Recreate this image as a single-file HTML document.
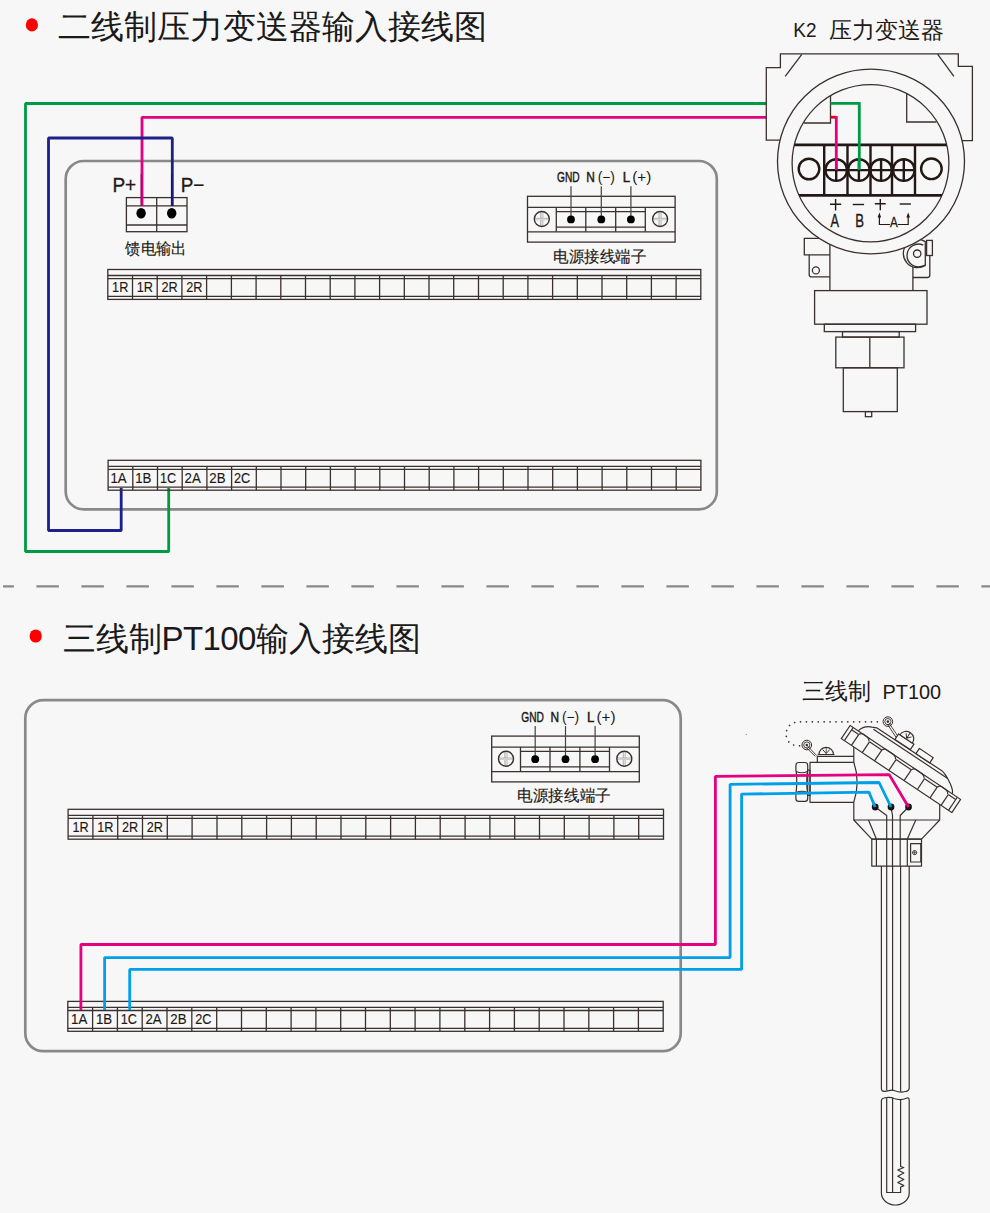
<!DOCTYPE html><html><head><meta charset="utf-8"><title>wiring</title><style>
html,body{margin:0;padding:0;background:#f7f7f7;width:990px;height:1213px;overflow:hidden}
svg{display:block;font-family:"Liberation Sans",sans-serif}
</style></head><body>
<svg width="990" height="1213" viewBox="0 0 990 1213">
<rect width="990" height="1213" fill="#f7f7f7"/>
<defs><linearGradient id="vg" x1="0" x2="1" y1="0" y2="0"><stop offset="0" stop-color="#a0a0a0"/><stop offset="0.5" stop-color="#e6e6e6"/><stop offset="1" stop-color="#b4b4b4"/></linearGradient><linearGradient id="hg" x1="0" x2="0" y1="0" y2="1"><stop offset="0" stop-color="#8a8a8a"/><stop offset="0.5" stop-color="#eeeeee"/><stop offset="1" stop-color="#b8b8b8"/></linearGradient></defs>
<ellipse cx="31.9" cy="24.9" rx="6.1" ry="6.6" fill="#ff0000"/>
<text x="58" y="38.3" font-size="33" fill="#1a1a1a">二线制压力变送器输入接线图</text>
<rect x="65.7" y="161" width="651.1" height="348.4" rx="18" fill="none" stroke="#898989" stroke-width="2.7"/>
<text x="112.4" y="192.3" font-size="21" fill="#231815" stroke="#231815" stroke-width="0.3" textLength="23.8" lengthAdjust="spacingAndGlyphs">P+</text>
<text x="180.7" y="192.3" font-size="21" fill="#231815" stroke="#231815" stroke-width="0.3" textLength="23.6" lengthAdjust="spacingAndGlyphs">P−</text>
<g stroke="#3a302e" stroke-width="1.3" fill="none"><rect x="126.4" y="197.6" width="60.6" height="34.1"/><line x1="156.7" y1="197.6" x2="156.7" y2="231.7"/><line x1="126.4" y1="205.9" x2="187" y2="205.9"/><line x1="126.4" y1="225" x2="187" y2="225"/></g>
<path d="M766 103.5H25.5V551.5H168.7V488" fill="none" stroke="#009944" stroke-width="2.8" stroke-linejoin="bevel"/>
<path d="M766 117.3H142V206" fill="none" stroke="#e4007f" stroke-width="2.8" stroke-linejoin="bevel"/>
<path d="M172.3 206V138H48.5V530.5H121.2V488" fill="none" stroke="#1d2088" stroke-width="2.8" stroke-linejoin="bevel"/>
<line x1="141.2" y1="174" x2="141.2" y2="206" stroke="#5a2040" stroke-width="1"/>
<line x1="171.6" y1="174" x2="171.6" y2="206" stroke="#1a1a40" stroke-width="1"/>
<ellipse cx="141.1" cy="213.3" rx="4.7" ry="5.3" fill="#000"/>
<ellipse cx="171.7" cy="213.3" rx="4.7" ry="5.3" fill="#000"/>
<text x="125.2" y="254" font-size="16" textLength="61.4" lengthAdjust="spacingAndGlyphs" fill="#231815" stroke="#231815" stroke-width="0.15">馈电输出</text>
<rect x="107.8" y="269.5" width="593.0" height="29.9" fill="none" stroke="#3a302e" stroke-width="1.3"/>
<line x1="107.8" y1="275.5" x2="700.8" y2="275.5" stroke="#3a302e" stroke-width="1.3"/>
<line x1="107.8" y1="278.6" x2="700.8" y2="278.6" stroke="#3a302e" stroke-width="1.3"/>
<line x1="107.8" y1="296.4" x2="700.8" y2="296.4" stroke="#3a302e" stroke-width="1.3"/>
<line x1="132.5" y1="275.5" x2="132.5" y2="299.4" stroke="#3a302e" stroke-width="1.3"/>
<line x1="157.2" y1="275.5" x2="157.2" y2="299.4" stroke="#3a302e" stroke-width="1.3"/>
<line x1="181.9" y1="275.5" x2="181.9" y2="299.4" stroke="#3a302e" stroke-width="1.3"/>
<line x1="206.6" y1="275.5" x2="206.6" y2="299.4" stroke="#3a302e" stroke-width="1.3"/>
<line x1="231.4" y1="275.5" x2="231.4" y2="299.4" stroke="#3a302e" stroke-width="1.3"/>
<line x1="256.1" y1="275.5" x2="256.1" y2="299.4" stroke="#3a302e" stroke-width="1.3"/>
<line x1="280.8" y1="275.5" x2="280.8" y2="299.4" stroke="#3a302e" stroke-width="1.3"/>
<line x1="305.5" y1="275.5" x2="305.5" y2="299.4" stroke="#3a302e" stroke-width="1.3"/>
<line x1="330.2" y1="275.5" x2="330.2" y2="299.4" stroke="#3a302e" stroke-width="1.3"/>
<line x1="354.9" y1="275.5" x2="354.9" y2="299.4" stroke="#3a302e" stroke-width="1.3"/>
<line x1="379.6" y1="275.5" x2="379.6" y2="299.4" stroke="#3a302e" stroke-width="1.3"/>
<line x1="404.3" y1="275.5" x2="404.3" y2="299.4" stroke="#3a302e" stroke-width="1.3"/>
<line x1="429.0" y1="275.5" x2="429.0" y2="299.4" stroke="#3a302e" stroke-width="1.3"/>
<line x1="453.7" y1="275.5" x2="453.7" y2="299.4" stroke="#3a302e" stroke-width="1.3"/>
<line x1="478.5" y1="275.5" x2="478.5" y2="299.4" stroke="#3a302e" stroke-width="1.3"/>
<line x1="503.2" y1="275.5" x2="503.2" y2="299.4" stroke="#3a302e" stroke-width="1.3"/>
<line x1="527.9" y1="275.5" x2="527.9" y2="299.4" stroke="#3a302e" stroke-width="1.3"/>
<line x1="552.6" y1="275.5" x2="552.6" y2="299.4" stroke="#3a302e" stroke-width="1.3"/>
<line x1="577.3" y1="275.5" x2="577.3" y2="299.4" stroke="#3a302e" stroke-width="1.3"/>
<line x1="602.0" y1="275.5" x2="602.0" y2="299.4" stroke="#3a302e" stroke-width="1.3"/>
<line x1="626.7" y1="275.5" x2="626.7" y2="299.4" stroke="#3a302e" stroke-width="1.3"/>
<line x1="651.4" y1="275.5" x2="651.4" y2="299.4" stroke="#3a302e" stroke-width="1.3"/>
<line x1="676.1" y1="275.5" x2="676.1" y2="299.4" stroke="#3a302e" stroke-width="1.3"/>
<text x="120.2" y="292.0" text-anchor="middle" font-size="15" textLength="16.2" lengthAdjust="spacingAndGlyphs" fill="#231815" stroke="#231815" stroke-width="0.15">1R</text>
<text x="144.9" y="292.0" text-anchor="middle" font-size="15" textLength="16.2" lengthAdjust="spacingAndGlyphs" fill="#231815" stroke="#231815" stroke-width="0.15">1R</text>
<text x="169.6" y="292.0" text-anchor="middle" font-size="15" textLength="16.2" lengthAdjust="spacingAndGlyphs" fill="#231815" stroke="#231815" stroke-width="0.15">2R</text>
<text x="194.3" y="292.0" text-anchor="middle" font-size="15" textLength="16.2" lengthAdjust="spacingAndGlyphs" fill="#231815" stroke="#231815" stroke-width="0.15">2R</text>
<rect x="108.1" y="460.3" width="592.8" height="29.9" fill="none" stroke="#3a302e" stroke-width="1.3"/>
<line x1="108.1" y1="466.3" x2="700.9" y2="466.3" stroke="#3a302e" stroke-width="1.3"/>
<line x1="108.1" y1="469.4" x2="700.9" y2="469.4" stroke="#3a302e" stroke-width="1.3"/>
<line x1="108.1" y1="487.2" x2="700.9" y2="487.2" stroke="#3a302e" stroke-width="1.3"/>
<line x1="132.8" y1="466.3" x2="132.8" y2="490.2" stroke="#3a302e" stroke-width="1.3"/>
<line x1="157.5" y1="466.3" x2="157.5" y2="490.2" stroke="#3a302e" stroke-width="1.3"/>
<line x1="182.2" y1="466.3" x2="182.2" y2="490.2" stroke="#3a302e" stroke-width="1.3"/>
<line x1="206.9" y1="466.3" x2="206.9" y2="490.2" stroke="#3a302e" stroke-width="1.3"/>
<line x1="231.6" y1="466.3" x2="231.6" y2="490.2" stroke="#3a302e" stroke-width="1.3"/>
<line x1="256.3" y1="466.3" x2="256.3" y2="490.2" stroke="#3a302e" stroke-width="1.3"/>
<line x1="281.0" y1="466.3" x2="281.0" y2="490.2" stroke="#3a302e" stroke-width="1.3"/>
<line x1="305.7" y1="466.3" x2="305.7" y2="490.2" stroke="#3a302e" stroke-width="1.3"/>
<line x1="330.4" y1="466.3" x2="330.4" y2="490.2" stroke="#3a302e" stroke-width="1.3"/>
<line x1="355.1" y1="466.3" x2="355.1" y2="490.2" stroke="#3a302e" stroke-width="1.3"/>
<line x1="379.8" y1="466.3" x2="379.8" y2="490.2" stroke="#3a302e" stroke-width="1.3"/>
<line x1="404.5" y1="466.3" x2="404.5" y2="490.2" stroke="#3a302e" stroke-width="1.3"/>
<line x1="429.2" y1="466.3" x2="429.2" y2="490.2" stroke="#3a302e" stroke-width="1.3"/>
<line x1="453.9" y1="466.3" x2="453.9" y2="490.2" stroke="#3a302e" stroke-width="1.3"/>
<line x1="478.6" y1="466.3" x2="478.6" y2="490.2" stroke="#3a302e" stroke-width="1.3"/>
<line x1="503.3" y1="466.3" x2="503.3" y2="490.2" stroke="#3a302e" stroke-width="1.3"/>
<line x1="528.0" y1="466.3" x2="528.0" y2="490.2" stroke="#3a302e" stroke-width="1.3"/>
<line x1="552.7" y1="466.3" x2="552.7" y2="490.2" stroke="#3a302e" stroke-width="1.3"/>
<line x1="577.4" y1="466.3" x2="577.4" y2="490.2" stroke="#3a302e" stroke-width="1.3"/>
<line x1="602.1" y1="466.3" x2="602.1" y2="490.2" stroke="#3a302e" stroke-width="1.3"/>
<line x1="626.8" y1="466.3" x2="626.8" y2="490.2" stroke="#3a302e" stroke-width="1.3"/>
<line x1="651.5" y1="466.3" x2="651.5" y2="490.2" stroke="#3a302e" stroke-width="1.3"/>
<line x1="676.2" y1="466.3" x2="676.2" y2="490.2" stroke="#3a302e" stroke-width="1.3"/>
<text x="118.6" y="482.8" text-anchor="middle" font-size="15" textLength="16.2" lengthAdjust="spacingAndGlyphs" fill="#231815" stroke="#231815" stroke-width="0.15">1A</text>
<text x="143.3" y="482.8" text-anchor="middle" font-size="15" textLength="16.2" lengthAdjust="spacingAndGlyphs" fill="#231815" stroke="#231815" stroke-width="0.15">1B</text>
<text x="168.0" y="482.8" text-anchor="middle" font-size="15" textLength="16.2" lengthAdjust="spacingAndGlyphs" fill="#231815" stroke="#231815" stroke-width="0.15">1C</text>
<text x="192.7" y="482.8" text-anchor="middle" font-size="15" textLength="16.2" lengthAdjust="spacingAndGlyphs" fill="#231815" stroke="#231815" stroke-width="0.15">2A</text>
<text x="217.4" y="482.8" text-anchor="middle" font-size="15" textLength="16.2" lengthAdjust="spacingAndGlyphs" fill="#231815" stroke="#231815" stroke-width="0.15">2B</text>
<text x="242.1" y="482.8" text-anchor="middle" font-size="15" textLength="16.2" lengthAdjust="spacingAndGlyphs" fill="#231815" stroke="#231815" stroke-width="0.15">2C</text>
<g transform="translate(527.5,196.3)" stroke="#3a302e" stroke-width="1.3" fill="none">
<rect x="0" y="0" width="147.6" height="45.8"/>
<line x1="0" y1="11" x2="147.6" y2="11"/>
<line x1="0" y1="35.5" x2="147.6" y2="35.5"/>
<line x1="28.8" y1="11" x2="28.8" y2="35.5"/>
<line x1="58.3" y1="11" x2="58.3" y2="35.5"/>
<line x1="88.2" y1="11" x2="88.2" y2="35.5"/>
<line x1="117.8" y1="11" x2="117.8" y2="35.5"/>
<line x1="28.8" y1="15.3" x2="117.8" y2="15.3"/>
<line x1="28.8" y1="30.8" x2="117.8" y2="30.8"/>
<rect x="12.8" y="16" width="3" height="13.6" fill="url(#vg)" stroke="none"/>
<rect x="7.5" y="21.6" width="13.6" height="2.3" fill="url(#hg)" stroke="none"/>
<circle cx="14.3" cy="22.7" r="7.5" stroke-width="1.4"/>
<rect x="131.1" y="16" width="3" height="13.6" fill="url(#vg)" stroke="none"/>
<rect x="125.8" y="21.6" width="13.6" height="2.3" fill="url(#hg)" stroke="none"/>
<circle cx="132.6" cy="22.7" r="7.5" stroke-width="1.4"/>
<line x1="43.5" y1="-10" x2="43.5" y2="23" stroke="#4a403e" stroke-width="1.2"/>
<circle cx="43.5" cy="23.1" r="3.9" fill="#000" stroke="none"/>
<line x1="73.8" y1="-10" x2="73.8" y2="23" stroke="#4a403e" stroke-width="1.2"/>
<circle cx="73.8" cy="23.1" r="3.9" fill="#000" stroke="none"/>
<line x1="103.4" y1="-10" x2="103.4" y2="23" stroke="#4a403e" stroke-width="1.2"/>
<circle cx="103.4" cy="23.1" r="3.9" fill="#000" stroke="none"/>
</g>
<g font-size="14" fill="#231815" stroke="#231815" stroke-width="0.45">
<text x="557.1" y="182.3" textLength="22.6" lengthAdjust="spacingAndGlyphs">GND</text>
<text x="586.3" y="182.3" textLength="8.6" lengthAdjust="spacingAndGlyphs">N</text>
<text x="622.7" y="182.3" textLength="7.4" lengthAdjust="spacingAndGlyphs">L</text>
</g>
<text x="597.7" y="182.3" font-size="14" fill="#231815" textLength="17.2" lengthAdjust="spacingAndGlyphs">(−)</text>
<text x="632.3" y="182.3" font-size="14" fill="#231815" textLength="19" lengthAdjust="spacingAndGlyphs">(+)</text>
<text x="553.1" y="261.6" font-size="16" textLength="93.4" lengthAdjust="spacingAndGlyphs" fill="#231815" stroke="#231815" stroke-width="0.15">电源接线端子</text>
<text x="793.3" y="37.3" font-size="20.5" fill="#231815" textLength="23.2" lengthAdjust="spacingAndGlyphs">K2</text>
<text x="829" y="38" font-size="22.6" fill="#231815">压力变送器</text>
<g stroke="#3a302e" stroke-width="1.3" fill="none">
<path d="M779.8 140.1H766.3V67.6H780.4V53.9H958.3V66.3H972.4V140.7H962"/>
<line x1="801.8" y1="54.3" x2="785.2" y2="76.4"/><line x1="937.6" y1="54.2" x2="953.9" y2="76.4"/>
<path d="M829.9 240V290.6"/><path d="M912.9 267V290.6"/>
<path d="M829.9 238.3H804.3V254.9H829.9"/>
<path d="M809.2 254.9V274.4Q809.2 276.9 811.7 276.9H829.9"/>
<circle cx="815.9" cy="270.4" r="3.5"/>
<path d="M912.9 277.5H927.3Q929.8 277.5 929.8 275V255.5"/>
<rect x="926.6" y="240.4" width="5.8" height="15.1"/>
<path d="M925.3 241.6A14.2 14.2 0 1 0 925.3 265.4Z" fill="#f7f7f7"/>
<path d="M923.3 245.2A11.4 11.4 0 1 0 922.4 266.2L925.3 265.2"/>
<circle cx="917.2" cy="253.7" r="3.7"/>
<rect x="814.6" y="290.6" width="112.4" height="33.6"/>
<rect x="824.3" y="324.2" width="91.3" height="7.4"/>
<rect x="842.5" y="331.6" width="56.7" height="5.5"/>
<rect x="835.8" y="337.1" width="68.2" height="30.7"/>
<line x1="869.8" y1="337.1" x2="869.8" y2="367.8"/>
<rect x="843.3" y="367.8" width="54" height="43.8"/>
<rect x="865.4" y="411.6" width="6.3" height="5.1"/>
</g>
<ellipse cx="871" cy="161.5" rx="93.5" ry="92.3" fill="#f7f7f7" stroke="#3a302e" stroke-width="1.3"/>
<ellipse cx="870.5" cy="163.2" rx="78.4" ry="78.6" fill="#f7f7f7" stroke="#3a302e" stroke-width="1.3"/>
<g stroke="#3a302e" stroke-width="1.3" fill="none"><path d="M830.5 95.5V123H804"/><path d="M906.7 93.5V122H936.3"/></g>
<defs><clipPath id="ic"><ellipse cx="870.5" cy="163.2" rx="78.4" ry="78.6"/></clipPath></defs>
<g stroke="#231815" stroke-width="2.4" fill="none" clip-path="url(#ic)">
<line x1="790" y1="144.9" x2="952" y2="144.9" stroke-width="2.6"/>
<line x1="790" y1="195.4" x2="952" y2="195.4" stroke-width="2.6"/>
<line x1="824.2" y1="144.9" x2="824.2" y2="195.4"/>
<line x1="847.5" y1="144.9" x2="847.5" y2="195.4"/>
<line x1="870.5" y1="144.9" x2="870.5" y2="195.4"/>
<line x1="892.0" y1="144.9" x2="892.0" y2="195.4"/>
<line x1="915.0" y1="144.9" x2="915.0" y2="195.4"/>
<circle cx="809" cy="169" r="10.3"/><circle cx="931.4" cy="168.8" r="10.3"/>
<circle cx="836.2" cy="170.1" r="10.8"/>
<line x1="836.2" y1="159.5" x2="836.2" y2="181"/>
<circle cx="858.9" cy="170.1" r="10.8"/>
<line x1="858.9" y1="159.5" x2="858.9" y2="181"/>
<circle cx="881.1" cy="170.1" r="10.8"/>
<line x1="881.1" y1="159.5" x2="881.1" y2="181"/>
<circle cx="903.8" cy="170.1" r="10.8"/>
<line x1="903.8" y1="159.5" x2="903.8" y2="181"/>
<line x1="825" y1="170.1" x2="914.5" y2="170.1"/>
</g>
<path d="M830.5 103.3H859.3V170" fill="none" stroke="#009944" stroke-width="2.8"/>
<path d="M830.5 117.2H836.3" fill="none" stroke="#e60012" stroke-width="2.8"/>
<path d="M836.3 116V170" fill="none" stroke="#e4007f" stroke-width="2.8"/>
<g stroke="#231815" stroke-width="1.4" fill="none">
<path d="M830 204.3H841.2M835.6 199.1V210.5"/>
<path d="M852.7 204.5H864.1"/>
<path d="M874.8 203.8H885.7M880.3 199V210.2"/>
<path d="M899.7 204H910.9"/>
</g>
<g fill="#231815" font-size="18.8" stroke="#231815" stroke-width="0.35">
<text transform="translate(830.6 227.3) scale(0.68 1)">A</text>
<text transform="translate(855.3 227.3) scale(0.7 1)">B</text>
<text transform="translate(889.9 227.3) scale(0.62 0.8)">A</text>
</g>
<g stroke="#231815" stroke-width="1.2" fill="none"><path d="M879.4 215.5V224.5H890"/><path d="M897.7 224.5H908.2V215.5"/></g>
<g fill="#231815"><path d="M879.4 212.5L877.6 217.4H881.2Z"/><path d="M908.2 212.5L906.4 217.4H910Z"/></g>
<line x1="3" y1="586.4" x2="990" y2="586.4" stroke="#898989" stroke-width="2.1" stroke-dasharray="22.5 22.5" stroke-dashoffset="11.6"/>
<ellipse cx="35.7" cy="636" rx="6.1" ry="6.6" fill="#ff0000"/>
<text x="62.5" y="649.8" font-size="33" fill="#1a1a1a">三线制<tspan letter-spacing="-0.6">PT100</tspan>输入接线图</text>
<rect x="25.3" y="700.2" width="655.4" height="351" rx="18" fill="none" stroke="#898989" stroke-width="2.7"/>
<g transform="translate(491.7,736.1)" stroke="#3a302e" stroke-width="1.3" fill="none">
<rect x="0" y="0" width="147.6" height="45.8"/>
<line x1="0" y1="11" x2="147.6" y2="11"/>
<line x1="0" y1="35.5" x2="147.6" y2="35.5"/>
<line x1="28.8" y1="11" x2="28.8" y2="35.5"/>
<line x1="58.3" y1="11" x2="58.3" y2="35.5"/>
<line x1="88.2" y1="11" x2="88.2" y2="35.5"/>
<line x1="117.8" y1="11" x2="117.8" y2="35.5"/>
<line x1="28.8" y1="15.3" x2="117.8" y2="15.3"/>
<line x1="28.8" y1="30.8" x2="117.8" y2="30.8"/>
<rect x="12.8" y="16" width="3" height="13.6" fill="url(#vg)" stroke="none"/>
<rect x="7.5" y="21.6" width="13.6" height="2.3" fill="url(#hg)" stroke="none"/>
<circle cx="14.3" cy="22.7" r="7.5" stroke-width="1.4"/>
<rect x="131.1" y="16" width="3" height="13.6" fill="url(#vg)" stroke="none"/>
<rect x="125.8" y="21.6" width="13.6" height="2.3" fill="url(#hg)" stroke="none"/>
<circle cx="132.6" cy="22.7" r="7.5" stroke-width="1.4"/>
<line x1="43.5" y1="-10" x2="43.5" y2="23" stroke="#4a403e" stroke-width="1.2"/>
<circle cx="43.5" cy="23.1" r="3.9" fill="#000" stroke="none"/>
<line x1="73.8" y1="-10" x2="73.8" y2="23" stroke="#4a403e" stroke-width="1.2"/>
<circle cx="73.8" cy="23.1" r="3.9" fill="#000" stroke="none"/>
<line x1="103.4" y1="-10" x2="103.4" y2="23" stroke="#4a403e" stroke-width="1.2"/>
<circle cx="103.4" cy="23.1" r="3.9" fill="#000" stroke="none"/>
</g>
<g font-size="14" fill="#231815" stroke="#231815" stroke-width="0.45">
<text x="521.3" y="722.1" textLength="22.6" lengthAdjust="spacingAndGlyphs">GND</text>
<text x="550.5" y="722.1" textLength="8.6" lengthAdjust="spacingAndGlyphs">N</text>
<text x="586.9" y="722.1" textLength="7.4" lengthAdjust="spacingAndGlyphs">L</text>
</g>
<text x="561.9" y="722.1" font-size="14" fill="#231815" textLength="17.2" lengthAdjust="spacingAndGlyphs">(−)</text>
<text x="596.5" y="722.1" font-size="14" fill="#231815" textLength="19" lengthAdjust="spacingAndGlyphs">(+)</text>
<text x="517.3" y="801.4" font-size="16" textLength="93.4" lengthAdjust="spacingAndGlyphs" fill="#231815" stroke="#231815" stroke-width="0.15">电源接线端子</text>
<rect x="68.1" y="809.3" width="595.4" height="29.9" fill="none" stroke="#3a302e" stroke-width="1.3"/>
<line x1="68.1" y1="815.3" x2="663.5" y2="815.3" stroke="#3a302e" stroke-width="1.3"/>
<line x1="68.1" y1="818.4" x2="663.5" y2="818.4" stroke="#3a302e" stroke-width="1.3"/>
<line x1="68.1" y1="836.2" x2="663.5" y2="836.2" stroke="#3a302e" stroke-width="1.3"/>
<line x1="92.9" y1="815.3" x2="92.9" y2="839.2" stroke="#3a302e" stroke-width="1.3"/>
<line x1="117.7" y1="815.3" x2="117.7" y2="839.2" stroke="#3a302e" stroke-width="1.3"/>
<line x1="142.5" y1="815.3" x2="142.5" y2="839.2" stroke="#3a302e" stroke-width="1.3"/>
<line x1="167.3" y1="815.3" x2="167.3" y2="839.2" stroke="#3a302e" stroke-width="1.3"/>
<line x1="192.1" y1="815.3" x2="192.1" y2="839.2" stroke="#3a302e" stroke-width="1.3"/>
<line x1="217.0" y1="815.3" x2="217.0" y2="839.2" stroke="#3a302e" stroke-width="1.3"/>
<line x1="241.8" y1="815.3" x2="241.8" y2="839.2" stroke="#3a302e" stroke-width="1.3"/>
<line x1="266.6" y1="815.3" x2="266.6" y2="839.2" stroke="#3a302e" stroke-width="1.3"/>
<line x1="291.4" y1="815.3" x2="291.4" y2="839.2" stroke="#3a302e" stroke-width="1.3"/>
<line x1="316.2" y1="815.3" x2="316.2" y2="839.2" stroke="#3a302e" stroke-width="1.3"/>
<line x1="341.0" y1="815.3" x2="341.0" y2="839.2" stroke="#3a302e" stroke-width="1.3"/>
<line x1="365.8" y1="815.3" x2="365.8" y2="839.2" stroke="#3a302e" stroke-width="1.3"/>
<line x1="390.6" y1="815.3" x2="390.6" y2="839.2" stroke="#3a302e" stroke-width="1.3"/>
<line x1="415.4" y1="815.3" x2="415.4" y2="839.2" stroke="#3a302e" stroke-width="1.3"/>
<line x1="440.2" y1="815.3" x2="440.2" y2="839.2" stroke="#3a302e" stroke-width="1.3"/>
<line x1="465.1" y1="815.3" x2="465.1" y2="839.2" stroke="#3a302e" stroke-width="1.3"/>
<line x1="489.9" y1="815.3" x2="489.9" y2="839.2" stroke="#3a302e" stroke-width="1.3"/>
<line x1="514.7" y1="815.3" x2="514.7" y2="839.2" stroke="#3a302e" stroke-width="1.3"/>
<line x1="539.5" y1="815.3" x2="539.5" y2="839.2" stroke="#3a302e" stroke-width="1.3"/>
<line x1="564.3" y1="815.3" x2="564.3" y2="839.2" stroke="#3a302e" stroke-width="1.3"/>
<line x1="589.1" y1="815.3" x2="589.1" y2="839.2" stroke="#3a302e" stroke-width="1.3"/>
<line x1="613.9" y1="815.3" x2="613.9" y2="839.2" stroke="#3a302e" stroke-width="1.3"/>
<line x1="638.7" y1="815.3" x2="638.7" y2="839.2" stroke="#3a302e" stroke-width="1.3"/>
<text x="80.5" y="831.8" text-anchor="middle" font-size="15" textLength="16.2" lengthAdjust="spacingAndGlyphs" fill="#231815" stroke="#231815" stroke-width="0.15">1R</text>
<text x="105.3" y="831.8" text-anchor="middle" font-size="15" textLength="16.2" lengthAdjust="spacingAndGlyphs" fill="#231815" stroke="#231815" stroke-width="0.15">1R</text>
<text x="130.1" y="831.8" text-anchor="middle" font-size="15" textLength="16.2" lengthAdjust="spacingAndGlyphs" fill="#231815" stroke="#231815" stroke-width="0.15">2R</text>
<text x="154.9" y="831.8" text-anchor="middle" font-size="15" textLength="16.2" lengthAdjust="spacingAndGlyphs" fill="#231815" stroke="#231815" stroke-width="0.15">2R</text>
<rect x="67.8" y="1001.4" width="595.4" height="29.9" fill="none" stroke="#3a302e" stroke-width="1.3"/>
<line x1="67.8" y1="1007.4" x2="663.2" y2="1007.4" stroke="#3a302e" stroke-width="1.3"/>
<line x1="67.8" y1="1010.5" x2="663.2" y2="1010.5" stroke="#3a302e" stroke-width="1.3"/>
<line x1="67.8" y1="1028.3" x2="663.2" y2="1028.3" stroke="#3a302e" stroke-width="1.3"/>
<line x1="92.6" y1="1007.4" x2="92.6" y2="1031.3" stroke="#3a302e" stroke-width="1.3"/>
<line x1="117.4" y1="1007.4" x2="117.4" y2="1031.3" stroke="#3a302e" stroke-width="1.3"/>
<line x1="142.2" y1="1007.4" x2="142.2" y2="1031.3" stroke="#3a302e" stroke-width="1.3"/>
<line x1="167.0" y1="1007.4" x2="167.0" y2="1031.3" stroke="#3a302e" stroke-width="1.3"/>
<line x1="191.8" y1="1007.4" x2="191.8" y2="1031.3" stroke="#3a302e" stroke-width="1.3"/>
<line x1="216.7" y1="1007.4" x2="216.7" y2="1031.3" stroke="#3a302e" stroke-width="1.3"/>
<line x1="241.5" y1="1007.4" x2="241.5" y2="1031.3" stroke="#3a302e" stroke-width="1.3"/>
<line x1="266.3" y1="1007.4" x2="266.3" y2="1031.3" stroke="#3a302e" stroke-width="1.3"/>
<line x1="291.1" y1="1007.4" x2="291.1" y2="1031.3" stroke="#3a302e" stroke-width="1.3"/>
<line x1="315.9" y1="1007.4" x2="315.9" y2="1031.3" stroke="#3a302e" stroke-width="1.3"/>
<line x1="340.7" y1="1007.4" x2="340.7" y2="1031.3" stroke="#3a302e" stroke-width="1.3"/>
<line x1="365.5" y1="1007.4" x2="365.5" y2="1031.3" stroke="#3a302e" stroke-width="1.3"/>
<line x1="390.3" y1="1007.4" x2="390.3" y2="1031.3" stroke="#3a302e" stroke-width="1.3"/>
<line x1="415.1" y1="1007.4" x2="415.1" y2="1031.3" stroke="#3a302e" stroke-width="1.3"/>
<line x1="439.9" y1="1007.4" x2="439.9" y2="1031.3" stroke="#3a302e" stroke-width="1.3"/>
<line x1="464.8" y1="1007.4" x2="464.8" y2="1031.3" stroke="#3a302e" stroke-width="1.3"/>
<line x1="489.6" y1="1007.4" x2="489.6" y2="1031.3" stroke="#3a302e" stroke-width="1.3"/>
<line x1="514.4" y1="1007.4" x2="514.4" y2="1031.3" stroke="#3a302e" stroke-width="1.3"/>
<line x1="539.2" y1="1007.4" x2="539.2" y2="1031.3" stroke="#3a302e" stroke-width="1.3"/>
<line x1="564.0" y1="1007.4" x2="564.0" y2="1031.3" stroke="#3a302e" stroke-width="1.3"/>
<line x1="588.8" y1="1007.4" x2="588.8" y2="1031.3" stroke="#3a302e" stroke-width="1.3"/>
<line x1="613.6" y1="1007.4" x2="613.6" y2="1031.3" stroke="#3a302e" stroke-width="1.3"/>
<line x1="638.4" y1="1007.4" x2="638.4" y2="1031.3" stroke="#3a302e" stroke-width="1.3"/>
<text x="79.2" y="1023.9" text-anchor="middle" font-size="15" textLength="16.2" lengthAdjust="spacingAndGlyphs" fill="#231815" stroke="#231815" stroke-width="0.15">1A</text>
<text x="104.0" y="1023.9" text-anchor="middle" font-size="15" textLength="16.2" lengthAdjust="spacingAndGlyphs" fill="#231815" stroke="#231815" stroke-width="0.15">1B</text>
<text x="128.8" y="1023.9" text-anchor="middle" font-size="15" textLength="16.2" lengthAdjust="spacingAndGlyphs" fill="#231815" stroke="#231815" stroke-width="0.15">1C</text>
<text x="153.6" y="1023.9" text-anchor="middle" font-size="15" textLength="16.2" lengthAdjust="spacingAndGlyphs" fill="#231815" stroke="#231815" stroke-width="0.15">2A</text>
<text x="178.4" y="1023.9" text-anchor="middle" font-size="15" textLength="16.2" lengthAdjust="spacingAndGlyphs" fill="#231815" stroke="#231815" stroke-width="0.15">2B</text>
<text x="203.3" y="1023.9" text-anchor="middle" font-size="15" textLength="16.2" lengthAdjust="spacingAndGlyphs" fill="#231815" stroke="#231815" stroke-width="0.15">2C</text>
<text x="802" y="699" font-size="23.3" fill="#231815">三线制</text>
<text x="882.6" y="699.3" font-size="20" fill="#231815" textLength="58.6" lengthAdjust="spacingAndGlyphs">PT100</text>
<g stroke="#3a302e" stroke-width="1.2" fill="none" stroke-linejoin="round">
<path d="M853.8 746.5V762.3Q860.5 782 853.8 802.3V820H939.7V804.3"/>
<path d="M853.8 820L871.8 839.1H921.5L939.7 820"/>
<path d="M868.5 820L876.4 839.1"/><path d="M915.8 820L907.3 839.1"/>
<rect x="871.8" y="839.1" width="49.7" height="27"/>
<line x1="876.4" y1="839.1" x2="876.4" y2="866.1"/><line x1="907.3" y1="839.1" x2="907.3" y2="866.1"/>
<rect x="910.6" y="843.6" width="10.2" height="18.4"/>
<circle cx="914.6" cy="852.6" r="2.1" stroke-width="0.9"/>
<path d="M912.5 852.6H916.7M914.6 850.5V854.7" stroke-width="0.7"/>
<path d="M875.2 807L886.7 815.5V866.1"/><path d="M891 807L892.5 815.5V866.1"/><path d="M908.5 807L900.2 815.5V866.1"/>
<path d="M881.4 866.1V1088.5Q881.4 1091.5 884.5 1091.3C889 1091 891 1089.5 894 1090.5C898 1092 903 1092.5 906.5 1091.3Q909.2 1090.5 909.2 1088V866.1"/>
<path d="M886.7 866.1V1090.5M892.6 866.1V1090.8M900.6 866.1V1091.8"/>
<path d="M881.4 1101Q881.4 1098.5 884 1098C888 1097 891 1097 894 1098.5C898 1100 903 1099.8 907 1098Q909.2 1097.5 909.2 1100V1193A13.9 12 0 0 1 881.4 1193Z"/>
<path d="M886.7 1098.3V1192.5H900.6V1187.2L903.8 1185.6L897.8 1182.5L903.8 1179.5L897.8 1176.2L903.8 1173L897.8 1170L903.8 1167.5L900.6 1166.5V1099.5"/>
<path d="M892.6 1097.8V1192.5"/>
<path d="M798.8 762.5H805Q807.7 762.5 807.7 765.5V770C806.5 775 806.5 788 807.7 793V798.5Q807.7 801.4 805 801.4H798.8Q795.9 801.4 795.9 798.5V793C797 788 797 775 795.9 770V765.5Q795.9 762.5 798.8 762.5Z"/>
<path d="M796.2 771.5Q801.8 774 807.5 771.5M796.2 792.5Q801.8 790 807.5 792.5"/>
<rect x="807.7" y="770" width="2.3" height="25.5"/>
<path d="M853.8 762.3H810V802.3H853.8"/>
<path d="M817.3 762.3V756.4H853.8"/>
<path d="M817.7 754.5H834.5M819 754.5A7.2 7.2 0 0 1 833.4 754.5"/>
<path d="M822.6 749.5L826.2 753.5L829.8 749.5" stroke-width="1"/>
<path d="M826.2 747.3V753.5" stroke-width="0.8"/>
<circle cx="806.8" cy="745" r="4.8" stroke-width="1"/><circle cx="806.8" cy="745" r="3.1" stroke-width="0.9"/><circle cx="806.8" cy="745" r="1.3" fill="#3a302e" stroke="none"/>
<path d="M807.5 746L816.8 755.6M806.2 747.6L815.4 756.4" stroke-width="0.9"/>
<circle cx="887.9" cy="721.6" r="4.8" stroke-width="1"/><circle cx="887.9" cy="721.6" r="3.1" stroke-width="0.9"/><circle cx="887.9" cy="721.6" r="1.3" fill="#3a302e" stroke="none"/>
<path d="M889 723L897.6 735.8M887.3 724L895.8 737" stroke-width="0.9"/>
</g>
<circle cx="746.3" cy="734.5" r="0.6" fill="#777"/>
<path d="M799.5 745.8C795 746 790 744.5 787.5 740C785 735 786 729 790 725C793 722.5 796 722 800 721.8H882.5" fill="none" stroke="#3a302e" stroke-width="1.7" stroke-dasharray="0.01 5.9" stroke-linecap="round"/>
<g transform="translate(841.3 738.6) rotate(33.8)" stroke="#3a302e" stroke-width="1.2" fill="#f7f7f7" stroke-linejoin="round">
<path d="M9.8 -15.8C11 -21 14 -24.5 19 -26.6L23.4 -28.6L101 -29.2C105 -29.2 121 -22 123 -15.8"/>
<path d="M21.5 -25.6L110.5 -26.1" fill="none"/>
<rect x="70.4" y="-35.3" width="16.6" height="6.3"/>
<rect x="45" y="-35.8" width="18.5" height="6.6"/>
<path d="M46.5 -35.8A7.6 7.6 0 0 1 61.7 -35.8Z"/>
<path d="M50.8 -40.5L54.1 -36.6L57.4 -40.5M54.1 -43.2V-36.6" fill="none" stroke-width="1"/>
<rect x="0" y="-15.8" width="133" height="15.8"/>
<path d="M3.7 -15.8V0M129 -15.8V0" fill="none"/>
<path d="M3.7 -13H12.2" fill="none"/>
<path d="M12.2 -13Q13.399999999999999 -15.8 15.399999999999999 -15.8H17.7C22.2 -15.8 24.0 -15 24.4 -13" fill="none"/>
<path d="M25.2 -13H40" fill="none"/>
<path d="M40 -13Q41.2 -15.8 43.2 -15.8H49.7C54.2 -15.8 56.0 -15 56.4 -13" fill="none"/>
<path d="M57.2 -13H75.5" fill="none"/>
<path d="M75.5 -13Q76.7 -15.8 78.7 -15.8H84.0C88.5 -15.8 90.3 -15 90.7 -13" fill="none"/>
<path d="M91.5 -13H106.7" fill="none"/>
<path d="M106.7 -13Q107.9 -15.8 109.9 -15.8H112.5C117.0 -15.8 118.8 -15 119.2 -13" fill="none"/>
<path d="M120 -13H129" fill="none"/>
<path d="M12.2 -13V0" fill="none"/>
<path d="M25.2 -13V0" fill="none"/>
<path d="M40 -13V0" fill="none"/>
<path d="M57.2 -13V0" fill="none"/>
<path d="M75.5 -13V0" fill="none"/>
<path d="M91.5 -13V0" fill="none"/>
<path d="M106.7 -13V0" fill="none"/>
<path d="M120 -13V0" fill="none"/>
</g>
<g fill="#1a1210"><circle cx="875.2" cy="807" r="3.4"/><circle cx="891" cy="807" r="3.4"/><circle cx="908.5" cy="807" r="3.4"/></g>
<path d="M80.9 1010V944.5H715.4V776.4L889.2 774.6L908.5 807" fill="none" stroke="#e4007f" stroke-width="2.8" stroke-linejoin="bevel"/>
<path d="M104.6 1010V957.6H730.1V784.4L879.1 782.5L891 807" fill="none" stroke="#00a0e9" stroke-width="2.8" stroke-linejoin="bevel"/>
<path d="M129.7 1010V969.4H741.6V794.1L868.9 792.1L875.2 807" fill="none" stroke="#00a0e9" stroke-width="2.8" stroke-linejoin="bevel"/>
</svg></body></html>
